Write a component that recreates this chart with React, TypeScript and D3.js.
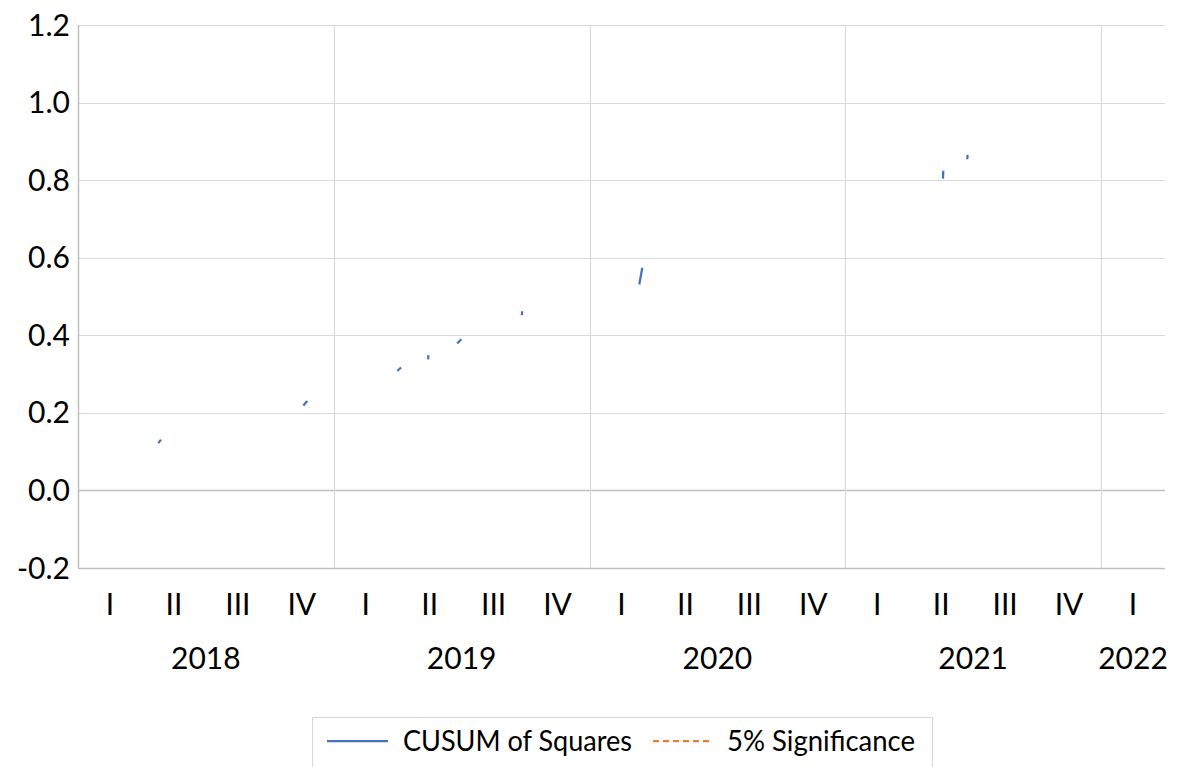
import React from "react";
import * as d3 from "d3";

// Y axis ticks
const yTicks = [-0.2, 0, 0.2, 0.4, 0.6, 0.8, 1.0, 1.2];
// Quarter categories
const years = ["2018", "2019", "2020", "2021", "2022"];
const quartersPerYear = [4, 4, 4, 4, 1];
const quarterNames = ["I", "II", "III", "IV"];

// CUSUM of Squares observations (position in quarters from 2018 Q1 start, value); null = gap
const cusumPos: (number | null)[] = [
  1.256, 1.298, null,
  3.524, 3.586, null,
  4.994, 5.052, null,
  5.476, 5.48, null,
  5.93, 5.995, null,
  6.942, 6.946, null,
  8.778, 8.825, null,
  13.528, 13.532, null,
  13.908, 13.912,
];
const cusumVal: (number | null)[] = [
  0.122, 0.131, null,
  0.219, 0.2305, null,
  0.308, 0.317, null,
  0.338, 0.349, null,
  0.379, 0.39, null,
  0.452, 0.462, null,
  0.531, 0.574, null,
  0.804, 0.824, null,
  0.854, 0.865,
];
// 5% significance bounds: no visible values in the chart
const sigPos: number[] = [];
const sigVal: number[] = [];

const W = 1190;
const H = 767;
const left = 78;
const right = 1165;
const top = 25;
const bottom = 568;
const FONT = "Lato, 'Open Sans', sans-serif";

export default function App() {
  const nCats = quartersPerYear.reduce((a, b) => a + b, 0);
  const x = d3.scaleLinear().domain([0, nCats]).range([left, right]);
  const y = d3.scaleLinear().domain([-0.2, 1.2]).range([bottom, top]);

  const cats: { label: string; idx: number }[] = [];
  let k = 0;
  const yearSpans: { year: string; start: number; end: number }[] = [];
  years.forEach((yr, i) => {
    const start = k;
    for (let q = 0; q < quartersPerYear[i]; q++) {
      cats.push({ label: quarterNames[q], idx: k });
      k++;
    }
    yearSpans.push({ year: yr, start, end: k });
  });

  const pts = cusumPos.map((p, i) => [p, cusumVal[i]] as [number | null, number | null]);
  const line = d3
    .line<[number | null, number | null]>()
    .defined((d) => d[0] !== null && d[1] !== null)
    .x((d) => x(d[0] as number))
    .y((d) => y(d[1] as number));

  const sigPts = sigPos.map((p, i) => [p, sigVal[i]] as [number, number]);
  const sigLine = d3
    .line<[number, number]>()
    .x((d) => x(d[0]))
    .y((d) => y(d[1]));

  return (
    <svg
      width={W}
      height={H}
      style={{ position: "absolute", left: 0, top: 0, background: "#fff" }}
      fontFamily={FONT}
    >
      <rect x={0} y={0} width={W} height={H} fill="#fff" />
      {/* horizontal gridlines */}
      {yTicks.map((t) => (
        <line
          key={"g" + t}
          x1={left}
          x2={right}
          y1={Math.round(y(t)) + 0.5}
          y2={Math.round(y(t)) + 0.5}
          stroke={t === 0 || t === -0.2 ? "#bfbfbf" : "#d9d9d9"}
          strokeWidth={t === 0 || t === -0.2 ? 1.5 : 1.2}
        />
      ))}
      {/* vertical year separators */}
      {yearSpans.slice(1).map((s) => (
        <line
          key={"v" + s.year}
          x1={Math.round(x(s.start)) + 0.5}
          x2={Math.round(x(s.start)) + 0.5}
          y1={top}
          y2={bottom}
          stroke="#d9d9d9"
          strokeWidth={1.2}
        />
      ))}
      {/* left axis line */}
      <line x1={left + 0.5} x2={left + 0.5} y1={top} y2={bottom} stroke="#bfbfbf" strokeWidth={1.5} />
      {/* y labels */}
      {yTicks.map((t) => (
        <text
          key={"yl" + t}
          x={70}
          y={y(t) + 10.5}
          textAnchor="end"
          fontSize={30}
          fill="#000"
        >
          {t.toFixed(1)}
        </text>
      ))}
      {/* quarter labels */}
      {cats.map((c) => (
        <text
          key={"q" + c.idx}
          x={x(c.idx + 0.5)}
          y={615}
          textAnchor="middle"
          fontSize={30}
          fill="#000"
        >
          {c.label}
        </text>
      ))}
      {/* year labels */}
      {yearSpans.map((s) => (
        <text
          key={"yr" + s.year}
          x={(x(s.start) + x(s.end)) / 2}
          y={669}
          textAnchor="middle"
          fontSize={30}
          fill="#000"
        >
          {s.year}
        </text>
      ))}
      {/* series */}
      <path d={line(pts) || ""} fill="none" stroke="#4472C4" strokeWidth={2.25} strokeLinecap="butt" />
      {sigPts.length > 0 && (
        <path d={sigLine(sigPts) || ""} fill="none" stroke="#ED7D31" strokeWidth={2.25} strokeDasharray="6 4" />
      )}
      {/* legend */}
      <rect x={312.5} y={717.5} width={620} height={60} fill="none" stroke="#d9d9d9" strokeWidth={1.2} />
      <line x1={327} x2={388} y1={741} y2={741} stroke="#4472C4" strokeWidth={2.25} />
      <text x={403} y={751} fontSize={28} fill="#000" textLength={229} lengthAdjust="spacingAndGlyphs">
        CUSUM of Squares
      </text>
      <line x1={653} x2={710} y1={741} y2={741} stroke="#ED7D31" strokeWidth={2.25} strokeDasharray="6 4" />
      <text x={727} y={751} fontSize={28} fill="#000" textLength={188} lengthAdjust="spacingAndGlyphs">
        5% Significance
      </text>
    </svg>
  );
}
